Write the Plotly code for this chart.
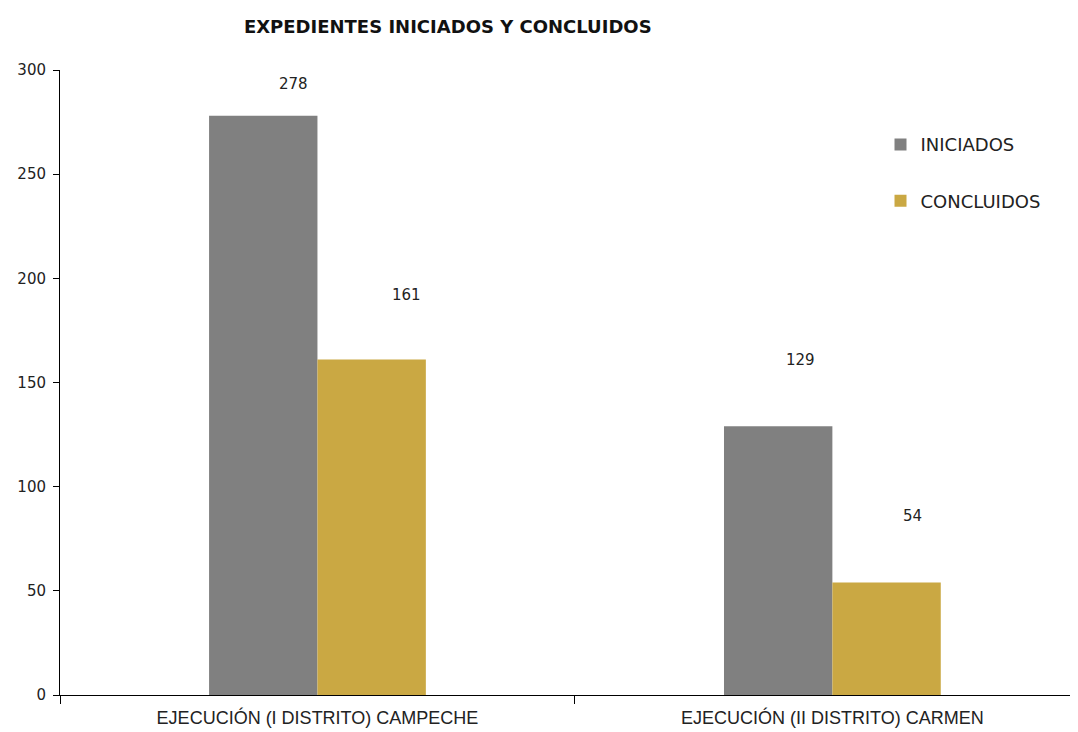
import plotly.graph_objects as go

categories = ["EJECUCIÓN (I DISTRITO) CAMPECHE", "EJECUCIÓN (II DISTRITO) CARMEN"]
iniciados = [278, 129]
concluidos = [161, 54]
series_names = ["INICIADOS", "CONCLUIDOS"]
y_ticks = [0, 50, 100, 150, 200, 250, 300]

colors = ["#808080", "#CAA843"]
num_font = dict(family="DejaVu Sans, Liberation Sans, sans-serif", size=15, color="#222222")

fig = go.Figure()
for name, vals, col, grp in zip(series_names, [iniciados, concluidos], colors, ["a", "b"]):
    fig.add_trace(go.Bar(
        x=categories, y=vals, name=name, marker=dict(color=col, line=dict(width=0)),
        legendgroup=grp,
    ))

# value labels (Excel-style, offset above and right of each bar)
label_offsets = {
    0: dict(dx=-0.105, xshift=[30, 22], yshift=[32, 66]),
    1: dict(dx=0.105, xshift=[35, 26], yshift=[65, 67]),
}
for si, vals in enumerate([iniciados, concluidos]):
    off = label_offsets[si]
    for ci, v in enumerate(vals):
        fig.add_annotation(
            x=ci + off["dx"], y=v, xref="x", yref="y", text=str(v), showarrow=False,
            xshift=off["xshift"][ci], yshift=off["yshift"][ci],
            font=num_font, yanchor="middle",
        )

fig.update_layout(
    width=1070, height=724,
    margin=dict(l=52, r=0, t=62, b=37),
    paper_bgcolor="white", plot_bgcolor="white",
    barmode="group", bargap=0.579, bargroupgap=0,
    title=dict(text="<b>EXPEDIENTES INICIADOS Y CONCLUIDOS</b>", x=0.411, xref="container",
               xanchor="center", y=1 - 19 / 724, yref="container", yanchor="middle",
               font=dict(family="DejaVu Sans, Liberation Sans, sans-serif", size=18, color="#111111")),
    legend=dict(x=0.806, y=0.910, xanchor="left", yanchor="top", tracegroupgap=30,
                font=dict(family="DejaVu Sans, Liberation Sans, sans-serif", size=18, color="#222222"),
                bgcolor="rgba(0,0,0,0)", itemwidth=30),
    showlegend=True,
)
fig.update_xaxes(
    type="category", range=[-0.5, 1.477], showline=True, linecolor="#000000", linewidth=1,
    ticks="outside", tickson="boundaries", ticklen=8, tickcolor="#000000",
    ticklabelstandoff=6,
    showgrid=False, tickfont=dict(family="Liberation Sans, Arial, sans-serif", size=18, color="#222222"),
)
fig.update_yaxes(
    range=[0, 300], tickvals=y_ticks, showline=True, linecolor="#000000", linewidth=1,
    ticks="outside", ticklen=6, tickcolor="#000000", showgrid=False, zeroline=False,
    ticklabelstandoff=4,
    tickfont=num_font,
)

fig.write_html("out.html")
